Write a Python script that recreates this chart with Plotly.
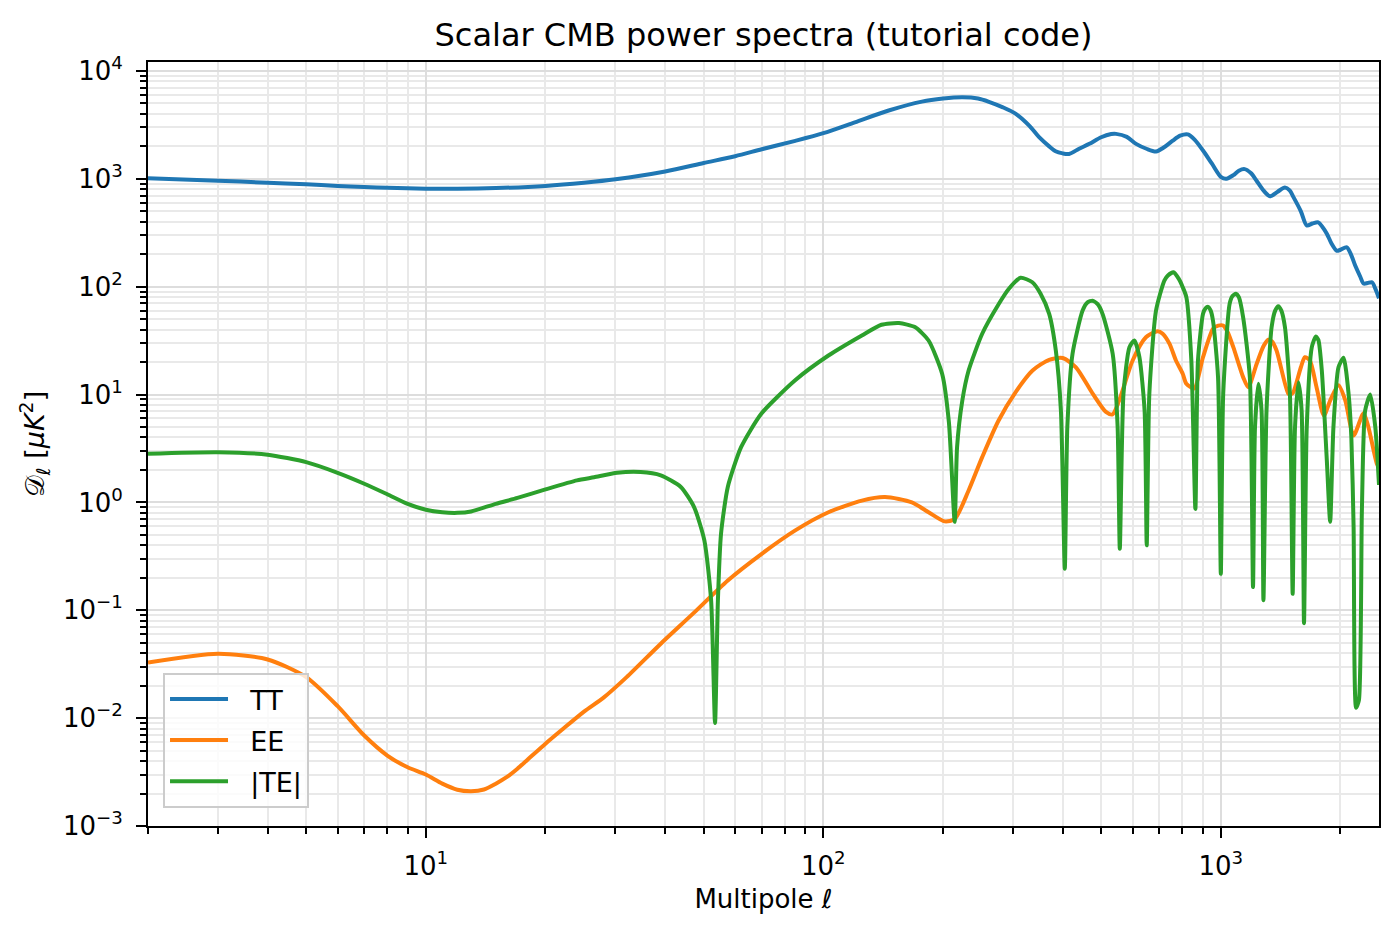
import plotly.graph_objects as go

# ---------------- data ----------------
ell_tt = [2, 3, 4, 5, 6, 7, 8, 10, 12, 15, 20, 25, 30, 40, 50, 60, 70, 85, 100, 120,
          146, 177, 200, 224, 245, 261, 283, 305, 330, 349, 370, 384, 400, 415, 440,
          467, 500, 530, 545, 580, 612, 650, 687, 720, 757, 790, 826, 860, 902, 950,
          1002, 1033, 1075, 1110, 1148, 1190, 1230, 1280, 1329, 1390, 1450, 1490, 1522,
          1590, 1645, 1700, 1758, 1800, 1848, 1900, 1958, 2000, 2075, 2130, 2178, 2240,
          2286, 2340, 2400, 2450, 2500]
dl_tt = [1010, 960, 920, 890, 860, 840, 825, 810, 808, 820, 860, 920, 990, 1170, 1400,
         1620, 1880, 2250, 2650, 3340, 4300, 5200, 5550, 5700, 5550, 5180, 4600, 4000,
         3100, 2430, 2000, 1800, 1720, 1700, 1900, 2110, 2430, 2600, 2610, 2450, 2110,
         1900, 1790, 1960, 2260, 2510, 2580, 2300, 1830, 1380, 1035, 1000, 1080, 1190,
         1230, 1130, 960, 780, 690, 760, 830, 780, 680, 500, 370, 385, 395, 360, 310,
         250, 215, 220, 232, 195, 157, 125, 107, 108, 110, 95, 78]

ell_ee = [2, 3, 4, 5, 6, 7, 8, 9, 10, 11, 12, 13, 14, 15, 16, 17, 18, 20, 22, 25, 28,
          32, 39, 47, 57.5, 70, 85, 103, 125, 143, 167, 184, 202, 214, 232, 251, 276,
          305, 336, 370, 400, 432, 476, 514, 534, 555, 600, 648, 694, 714, 743, 771,
          802, 819, 857, 902, 956, 985, 1013, 1040, 1075, 1138, 1172, 1231, 1280, 1316,
          1345, 1381, 1478, 1500, 1522, 1590, 1627, 1675, 1741, 1817, 1884, 1977, 2057,
          2158, 2286, 2351, 2469, 2500]
dl_ee = [0.0327, 0.0396, 0.035, 0.024, 0.0129, 0.0069, 0.0045, 0.0035, 0.0030, 0.00247,
         0.00217, 0.0021, 0.00218, 0.00247, 0.00285, 0.0034, 0.0041, 0.0058, 0.0078,
         0.0115, 0.0155, 0.024, 0.049, 0.093, 0.189, 0.334, 0.55, 0.81, 1.04, 1.12, 1.0,
         0.81, 0.667, 0.70, 1.29, 2.63, 5.75, 10.6, 16.7, 21.0, 21.8, 17.9, 10.2, 6.9,
         6.54, 8.8, 20.7, 34.0, 38.7, 36.6, 29.5, 20.7, 15.6, 12.6, 11.4, 22.2, 40.8,
         43.5, 43.7, 38.0, 27.5, 14.5, 11.7, 19.3, 28.0, 32.2, 31.0, 25.6, 10.2, 10.0,
         10.5, 17.9, 22.2, 20.7, 11.7, 6.4, 8.8, 12.2, 8.8, 4.17, 6.7, 5.0, 2.28, 2.1]

ell_te = [2, 3, 4, 5, 6, 7, 8, 9, 10, 11, 12, 13, 15, 17, 20, 24, 26.5, 30.3, 34.7, 39,
          43.8, 47.3, 50.2, 52.2, 53.4, 54.3, 55.3, 57.5, 62.1, 69.8, 84.8, 103, 125,
          140, 155, 170, 184, 199, 207, 214, 217, 223.7, 232, 251, 276.5, 293, 313.5,
          335.6, 352, 370, 384.5, 396, 405, 411, 423.6, 449, 462, 475.6, 490, 504,
          534.5, 550, 557, 569, 589, 606, 624, 643, 651, 661, 687, 721, 736, 760, 784,
          802, 819, 843, 863, 876, 902, 915, 929, 943, 956, 984, 1000, 1014, 1052, 1070,
          1091, 1110, 1138, 1183, 1205, 1219, 1243, 1266, 1280, 1303, 1342, 1370, 1395,
          1420, 1450, 1492, 1516, 1537, 1568, 1597, 1619, 1645, 1694, 1734, 1760, 1795,
          1848, 1884, 1920, 1977, 2036, 2096, 2130, 2158, 2189, 2225, 2264, 2307, 2376,
          2447, 2500]
dl_te = [2.83, 2.92, 2.77, 2.36, 1.88, 1.49, 1.19, 0.97, 0.855, 0.81, 0.80, 0.825, 0.97,
         1.10, 1.32, 1.6, 1.71, 1.88, 1.91, 1.78, 1.39, 0.905, 0.444, 0.124, 0.009,
         0.124, 0.516, 1.39, 3.25, 6.64, 13.5, 23.0, 35.3, 44.4, 46.0, 42.2, 31.7, 15.6,
         5.5, 0.66, 3.25, 8.8, 16.7, 36.6, 69.4, 95.6, 121, 110, 86, 56, 25.6, 7.1,
         0.243, 5.0, 23.9, 60, 71.6, 74, 69, 56, 23.9, 5.0, 0.372, 10.2, 27.5, 31.7,
         22.2, 7.1, 0.40, 10.2, 60, 114, 127, 136, 118, 99, 80, 20.7, 0.87, 20.7, 56,
         63, 65, 60, 48, 14.5, 0.218, 10.2, 69, 82, 86, 80, 52, 14.5, 0.164, 5.0, 12.6,
         7.1, 0.124, 7.1, 42, 60, 66, 60, 42, 10.2, 0.142, 5.0, 13.0, 7.1, 0.076, 5.0,
         27.5, 34.6, 32.0, 16.7, 2.45, 0.66, 5.0, 17.9, 21.9, 10.2, 4.0, 0.59, 0.0125,
         0.0146, 0.83, 7.1, 10.0, 5.0, 1.45]

series_names = ["TT", "EE", "|TE|"]

x_major = [10, 100, 1000]
x_major_text = ["10<sup>1</sup>", "10<sup>2</sup>", "10<sup>3</sup>"]
x_minor = [2, 3, 4, 5, 6, 7, 8, 9, 20, 30, 40, 50, 60, 70, 80, 90,
           200, 300, 400, 500, 600, 700, 800, 900, 2000]
y_major = [1e-3, 1e-2, 1e-1, 1e0, 1e1, 1e2, 1e3, 1e4]
y_major_text = ["10<sup>−3</sup>", "10<sup>−2</sup>", "10<sup>−1</sup>", "10<sup>0</sup>",
                "10<sup>1</sup>", "10<sup>2</sup>", "10<sup>3</sup>", "10<sup>4</sup>"]
y_minor = [m * 10.0 ** e for e in range(-3, 4) for m in range(2, 10)]

# ---------------- figure ----------------
FONT = "DejaVu Sans"
GAP = "\u00a0\u00a0"
fig = go.Figure()
fig.add_trace(go.Scatter(x=ell_tt, y=dl_tt, mode="lines", name=GAP + series_names[0],
                         legendgroup="a",
                         line=dict(color="#1f77b4", width=4, shape="spline", smoothing=0.8)))
fig.add_trace(go.Scatter(x=ell_ee, y=dl_ee, mode="lines", name=GAP + series_names[1],
                         legendgroup="b",
                         line=dict(color="#ff7f0e", width=4, shape="spline", smoothing=0.7)))
fig.add_trace(go.Scatter(x=ell_te, y=dl_te, mode="lines", name=GAP + series_names[2],
                         legendgroup="c",
                         line=dict(color="#2ca02c", width=4, shape="spline", smoothing=0.6)))

axis_common = dict(
    showline=True, linecolor="black", linewidth=2, mirror=True,
    ticks="outside", ticklen=10, tickwidth=2, tickcolor="black",
    showgrid=True, gridcolor="#dddddd", gridwidth=2,
    tickfont=dict(family=FONT, size=26, color="black"),
    zeroline=False,
)

fig.update_xaxes(
    type="log", range=[0.30103, 3.39794],
    tickmode="array", tickvals=x_major, ticktext=x_major_text,
    minor=dict(tickmode="array", tickvals=x_minor, ticks="outside", ticklen=6,
               tickwidth=1.6, tickcolor="black", showgrid=True,
               gridcolor="#e9e9e9", gridwidth=1.6),
    title=dict(text="Multipole <i>ℓ</i>", font=dict(family=FONT, size=26, color="black"),
               standoff=10),
    ticklabelstandoff=6,
    **axis_common,
)
fig.update_yaxes(
    type="log", range=[-3, 4.083],
    tickmode="array", tickvals=y_major, ticktext=y_major_text,
    minor=dict(tickmode="array", tickvals=y_minor, ticks="outside", ticklen=6,
               tickwidth=1.6, tickcolor="black", showgrid=True,
               gridcolor="#e9e9e9", gridwidth=1.6),
    title=dict(text="𝒟<sub><i>ℓ</i></sub> [<i>μK</i><sup>2</sup>]",
               font=dict(family=FONT, size=27, color="black"), standoff=10),
    ticklabelstandoff=8,
    **axis_common,
)

fig.update_layout(
    width=1400, height=934,
    margin=dict(l=148, r=21, t=62, b=108, autoexpand=False),
    paper_bgcolor="white", plot_bgcolor="white",
    font=dict(family=FONT, color="black"),
    title=dict(text="Scalar CMB power spectra (tutorial code)",
               font=dict(family=FONT, size=32, color="black"),
               x=0.5, xanchor="center", xref="paper",
               y=1 - 35 / 934, yanchor="middle", yref="container"),
    legend=dict(x=0.0122, y=0.0236, xanchor="left", yanchor="bottom",
                bgcolor="rgba(255,255,255,0.8)", bordercolor="#cccccc", borderwidth=2,
                font=dict(family=FONT, size=27, color="black"),
                traceorder="grouped", tracegroupgap=3, itemwidth=58),
    showlegend=True,
)

fig.write_html("out.html")
